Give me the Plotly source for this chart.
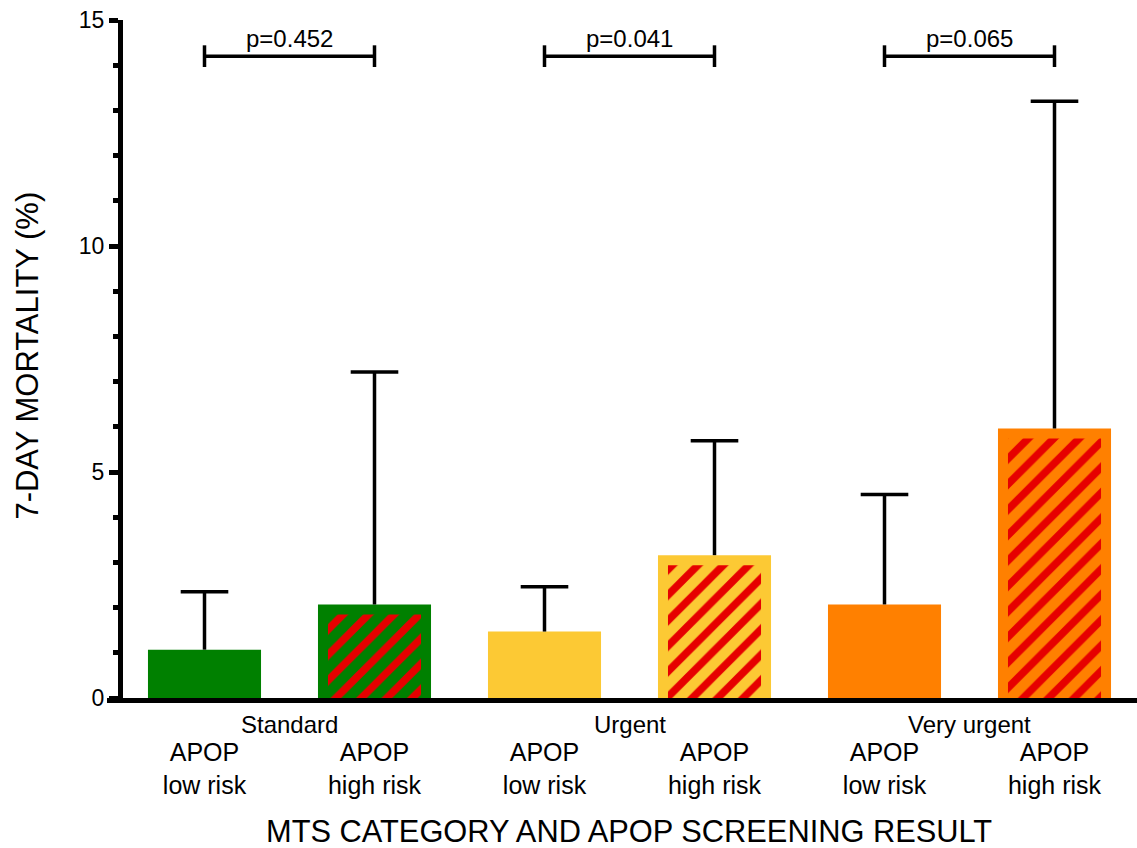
import plotly.graph_objects as go

# ---- data ----
groups = ["Standard", "Urgent", "Very urgent"]
bar_labels = ["APOP<br>low risk", "APOP<br>high risk",
              "APOP<br>low risk", "APOP<br>high risk",
              "APOP<br>low risk", "APOP<br>high risk"]
mortality = [1.07, 2.07, 1.47, 3.16, 2.07, 5.96]
upper_ci = [2.35, 7.21, 2.46, 5.69, 4.50, 13.20]
bar_colors = ["#008000", "#008000", "#FCC934", "#FCC934", "#FF8000", "#FF8000"]
high_risk = [False, True, False, True, False, True]
p_values = ["p=0.452", "p=0.041", "p=0.065"]
y_ticks = [0, 5, 10, 15]

FONT = "Liberation Sans, Arial, sans-serif"
STRIPE = "#E60000"

W, H = 1137, 848
ML, MR, MT, MB = 123, 0, 20, 150
plot_w = W - ML - MR
plot_h = H - MT - MB
YMAX = 15
px_per_unit = plot_h / YMAX
px_per_cat = 170.0

x_pos = list(range(len(mortality)))
bar_w = 0.665
inset_px = 10

fig = go.Figure()

# solid bars
fig.add_trace(go.Bar(
    x=x_pos, y=mortality, width=bar_w,
    marker=dict(color=bar_colors, line=dict(width=0)),
    hoverinfo="skip", showlegend=False,
))

# hatched inner region for high-risk bars
for x, m, c, h in zip(x_pos, mortality, bar_colors, high_risk):
    if not h:
        continue
    fig.add_trace(go.Bar(
        x=[x], y=[m - inset_px / px_per_unit],
        width=bar_w - 2 * inset_px / px_per_cat,
        marker=dict(color=c, line=dict(width=0),
                    pattern=dict(shape="/", fgcolor=STRIPE, bgcolor=c, fgopacity=1,
                                 size=18, solidity=0.42, fillmode="overlay")),
        hoverinfo="skip", showlegend=False,
    ))

# upper error bars: stems and caps
stem_x, stem_y = [], []
for x, m, u in zip(x_pos, mortality, upper_ci):
    stem_x += [x, x, None]
    stem_y += [m, u, None]
fig.add_trace(go.Scatter(
    x=stem_x, y=stem_y, mode="lines",
    line=dict(color="black", width=3.5),
    hoverinfo="skip", showlegend=False, cliponaxis=False,
))
fig.add_trace(go.Scatter(
    x=x_pos, y=upper_ci, mode="markers",
    marker=dict(symbol="line-ew", size=34, color="black",
                line=dict(color="black", width=3.5)),
    hoverinfo="skip", showlegend=False, cliponaxis=False,
))

# significance brackets
shapes = []
annotations = []
for i, p in enumerate(p_values):
    x0, x1 = 2 * i, 2 * i + 1
    yb = 14.2
    shapes.append(dict(type="line", xref="x", yref="y", x0=x0, x1=x1, y0=yb, y1=yb,
                       line=dict(color="black", width=3.5)))
    for xx in (x0, x1):
        shapes.append(dict(type="line", xref="x", yref="y", x0=xx, x1=xx,
                           y0=yb - 0.24, y1=yb + 0.24,
                           line=dict(color="black", width=3.5)))
    annotations.append(dict(x=(x0 + x1) / 2, y=14.6, xref="x", yref="y",
                            text=p, showarrow=False, yanchor="middle",
                            font=dict(size=24, color="black", family=FONT)))

# group labels
for i, g in enumerate(groups):
    annotations.append(dict(x=2 * i + 0.5, y=-(724 - (MT + plot_h)) / plot_h,
                            xref="x", yref="paper", text=g, showarrow=False,
                            yanchor="middle",
                            font=dict(size=24, color="black", family=FONT)))

# axis titles
annotations.append(dict(x=0.4995, y=-(831 - (MT + plot_h)) / plot_h, xref="paper", yref="paper",
                        text="MTS CATEGORY AND APOP SCREENING RESULT", showarrow=False,
                        yanchor="middle", xanchor="center",
                        font=dict(size=30.8, color="black", family=FONT)))
annotations.append(dict(x=-(ML - 28) / plot_w, y=0.505, xref="paper", yref="paper",
                        text="7-DAY MORTALITY (%)", showarrow=False, textangle=-90,
                        yanchor="middle", xanchor="center",
                        font=dict(size=31, color="black", family=FONT)))

# x axis line (extends slightly left of the y axis)
shapes.append(dict(type="line", xref="paper", yref="paper",
                   x0=-(ML - 107) / plot_w, x1=1.01,
                   y0=-2.5 / plot_h, y1=-2.5 / plot_h,
                   line=dict(color="black", width=5)))

fig.update_layout(
    width=W, height=H,
    margin=dict(l=ML, r=MR, t=MT, b=MB, pad=0),
    paper_bgcolor="white", plot_bgcolor="white",
    barmode="overlay",
    shapes=shapes, annotations=annotations,
    font=dict(family=FONT, color="black"),
    xaxis=dict(range=[-81.5 / px_per_cat, -81.5 / px_per_cat + plot_w / px_per_cat],
               tickvals=x_pos, ticktext=bar_labels, ticks="",
               showline=False, showgrid=False, zeroline=False,
               tickfont=dict(size=25, family=FONT, color="black"),
               ticklabelstandoff=37),
    yaxis=dict(range=[0, YMAX], tickvals=y_ticks, ticks="outside",
               ticklen=9, tickwidth=4.5, tickcolor="black",
               showline=True, linewidth=5, linecolor="black",
               showgrid=False, zeroline=False,
               tickfont=dict(size=23, family=FONT, color="black"),
               minor=dict(dtick=1, ticks="outside", ticklen=5, tickwidth=4.5,
                          tickcolor="black", showgrid=False)),
)

fig.write_html("out.html")
